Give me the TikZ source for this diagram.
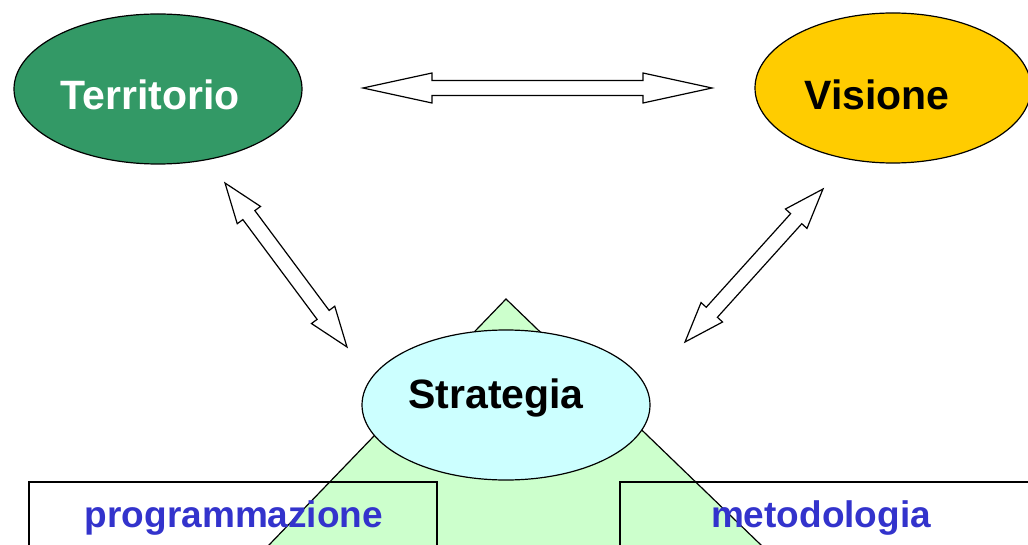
\documentclass[tikz,border=0pt]{standalone}
\usepackage{fontspec}
\setmainfont{Liberation Sans}
\usetikzlibrary{shapes.geometric,calc}
\definecolor{terrgreen}{HTML}{339966}
\definecolor{visyellow}{HTML}{FFCC00}
\definecolor{stratcyan}{HTML}{CCFFFF}
\definecolor{trigreen}{HTML}{CCFFCC}
\definecolor{textblue}{HTML}{3333CC}
\tikzset{
  blob/.style={ellipse, draw=black, line width=1.2pt, inner sep=0pt, minimum width=288pt, minimum height=150pt},
  bigtext/.style={font=\fontsize{41}{48}\selectfont\bfseries, inner sep=0pt, anchor=center},
  boxtext/.style={font=\fontsize{37}{44}\selectfont\bfseries, text=textblue, inner sep=0pt, anchor=center},
  frame/.style={draw=black, line width=1.2pt},
  blockarrow/.style={draw=black, fill=white, line width=1.2pt, line join=miter}
}
% #1,#2: named end points; #3 head length; #4 head half width; #5 shaft half width
\newcommand{\dblblockarrow}[5]{%
  \path[blockarrow] let \p1=(#1), \p2=(#2),
      \n1={atan2(\y2-\y1,\x2-\x1)}, \n2={veclen(\x2-\x1,\y2-\y1)} in
    [shift={(\p1)}, rotate=\n1]
    (0pt,0pt) -- (#3pt,#4pt) -- (#3pt,#5pt) -- ({\n2-#3pt},#5pt) -- ({\n2-#3pt},#4pt)
    -- (\n2,0pt) -- ({\n2-#3pt},-#4pt) -- ({\n2-#3pt},-#5pt) -- (#3pt,-#5pt) -- (#3pt,-#4pt) -- cycle;}
\begin{document}
\begin{tikzpicture}[x=1pt,y=-1pt]
\useasboundingbox (0,0) rectangle (1028,545);
\clip (0,0) rectangle (1028,545);
% triangle
\coordinate (apex) at (506,299);
\coordinate (tl) at (216,600);
\coordinate (tr) at (818,600);
\draw[frame, fill=trigreen] (apex) -- (tr) -- (tl) -- cycle;
% boxes
\draw[frame] (29,482) rectangle (437,600);
\draw[frame] (620,482) rectangle (1040,600);
\node[boxtext] (prog) at (234,518) {programmazione};
\node[boxtext] (meto) at (821,518) {metodologia};
% ellipses
\node[blob, fill=terrgreen] (terr) at (158,89) {};
\node[bigtext, text=white] (terrt) at (150,95) {Territorio};
\node[blob, fill=visyellow, minimum width=276pt] (vis) at (893,88) {};
\node[bigtext] (vist) at (877,95) {Visione};
\node[blob, fill=stratcyan] (strat) at (506,405) {};
\node[bigtext] (stratt) at (496,398) {Strategia};
% arrows
\coordinate (h1) at (363,88);
\coordinate (h2) at (712,88);
\coordinate (l1) at (225,183);
\coordinate (l2) at (347,347);
\coordinate (r1) at (823,189);
\coordinate (r2) at (685,342);
\dblblockarrow{h1}{h2}{69}{15}{7.5}
\dblblockarrow{l1}{l2}{40}{14.5}{7.5}
\dblblockarrow{r1}{r2}{40}{14.5}{7.5}
\end{tikzpicture}
\end{document}
